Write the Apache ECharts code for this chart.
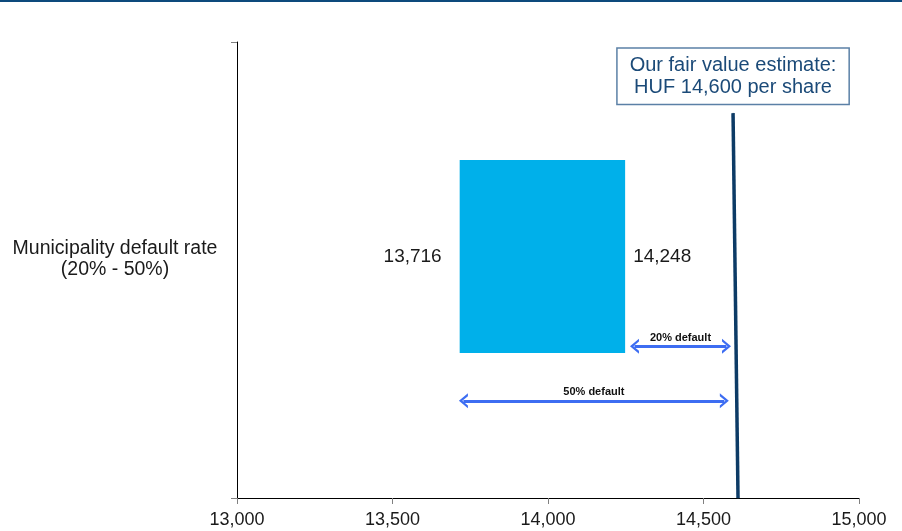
<!DOCTYPE html>
<html>
<head>
<meta charset="utf-8">
<script src="https://cdn.jsdelivr.net/npm/echarts@6/dist/echarts.min.js"></script>
<style>
  html, body { margin: 0; padding: 0; background: #fff; }
  #main { width: 902px; height: 531px; }
</style>
</head>
<body>
<div id="main"></div>
<script>
// data
var categories = ["Municipality default rate\n(20% - 50%)"];
var barLow = [13716];
var barHigh = [14248];
var fairValue = 14600;
var xTicks = { min: 13000, max: 15000, interval: 500 };
// arrows: label, start, end (where the arrow sits on the x scale)
var arrowNames = ["20% default", "50% default"];
var arrowStart = [14278, 13728];
var arrowEnd = [14574, 14567];

var fmt = function (v) {
  return String(v).replace(/\B(?=(\d{3})+(?!\d))/g, ",");
};

var myChart = echarts.init(document.getElementById("main"));
var chevron = "path://M0,9 L7,0 L14,9 L11.4,9 L7,3.4 L2.6,9 Z";

var option = {
  animation: false,
  textStyle: { fontFamily: "Liberation Sans, Arial, sans-serif" },
  graphic: [
    { type: "rect", left: 0, top: 0, shape: { width: 902, height: 2 }, style: { fill: "#0D4A7C" } }
  ],
  grid: { left: 237, right: 43, top: 42, bottom: 33 },
  xAxis: {
    type: "value",
    min: xTicks.min,
    max: xTicks.max,
    interval: xTicks.interval,
    splitLine: { show: false },
    axisLine: { show: true, lineStyle: { color: "#000", width: 1 } },
    axisTick: { show: true, length: 6, lineStyle: { color: "#808080" } },
    axisLabel: { margin: 13, fontSize: 18, color: "#1a1a1a", formatter: fmt }
  },
  yAxis: [
    {
      type: "category",
      data: categories,
      axisLine: { show: true, lineStyle: { color: "#000", width: 1 } },
      axisTick: { show: true, length: 6, lineStyle: { color: "#808080" } },
      axisLabel: {
        margin: 122,
        align: "center",
        verticalAlign: "middle",
        fontSize: 19.5,
        lineHeight: 21,
        color: "#1a1a1a",
        // empty last line lifts the two text lines a little, as in the picture
        formatter: function (v) { return v + "\n "; }
      }
    },
    { type: "value", min: 0, max: 1, show: false }
  ],
  series: [
    {
      name: "range",
      type: "custom",
      xAxisIndex: 0,
      yAxisIndex: 1,
      encode: { x: [0, 1] },
      data: barLow.map(function (v, i) { return [v, barHigh[i]]; }),
      renderItem: function (params, api) {
        var p0 = api.coord([api.value(0), 0.741]);
        var p1 = api.coord([api.value(1), 0.318]);
        var midY = (p0[1] + p1[1]) / 2;
        return {
          type: "group",
          children: [
            {
              type: "rect",
              shape: { x: p0[0], y: p0[1], width: p1[0] - p0[0], height: p1[1] - p0[1] },
              style: { fill: "#00B0EA" }
            },
            {
              type: "text",
              style: {
                text: fmt(api.value(0)), x: p0[0] - 18, y: midY,
                align: "right", verticalAlign: "middle",
                fontSize: 19, fontFamily: "Liberation Sans", fill: "#1a1a1a"
              }
            },
            {
              type: "text",
              style: {
                text: fmt(api.value(1)), x: p1[0] + 8, y: midY,
                align: "left", verticalAlign: "middle",
                fontSize: 19, fontFamily: "Liberation Sans", fill: "#1a1a1a"
              }
            }
          ]
        };
      },
      markLine: {
        silent: true,
        symbol: [chevron, chevron],
        symbolSize: [15, 9],
        lineStyle: { color: "#3D6DF2", width: 3, type: "solid" },
        label: {
          show: true,
          position: "middle",
          distance: 3,
          fontSize: 11,
          fontWeight: "bold",
          fontFamily: "Liberation Sans",
          color: "#111",
          formatter: "{b}"
        },
        data: [
          [{ name: arrowNames[0], coord: [arrowStart[0], 0.333] }, { coord: [arrowEnd[0], 0.333] }],
          [{ name: arrowNames[1], coord: [arrowStart[1], 0.213] }, { coord: [arrowEnd[1], 0.213] }]
        ]
      }
    },
    {
      name: "fair value",
      type: "line",
      xAxisIndex: 0,
      yAxisIndex: 1,
      symbol: "circle",
      symbolSize: 1,
      showSymbol: true,
      itemStyle: { color: "#0D3B66" },
      lineStyle: { color: "#0D3B66", width: 3.5 },
      data: [
        {
          value: [fairValue - 5, 0.844],
          label: {
            show: true,
            position: "top",
            distance: 9,
            formatter: "Our fair value estimate:\nHUF " + fmt(fairValue) + " per share",
            fontSize: 20,
            lineHeight: 22,
            color: "#1B4A78",
            backgroundColor: "#fff",
            borderColor: "#5B80A6",
            borderWidth: 1.5,
            padding: [6, 12, 5, 12],
            align: "center"
          }
        },
        { value: [fairValue + 11, 0] }
      ]
    }
  ]
};
option && myChart.setOption(option);
</script>
</body>
</html>
